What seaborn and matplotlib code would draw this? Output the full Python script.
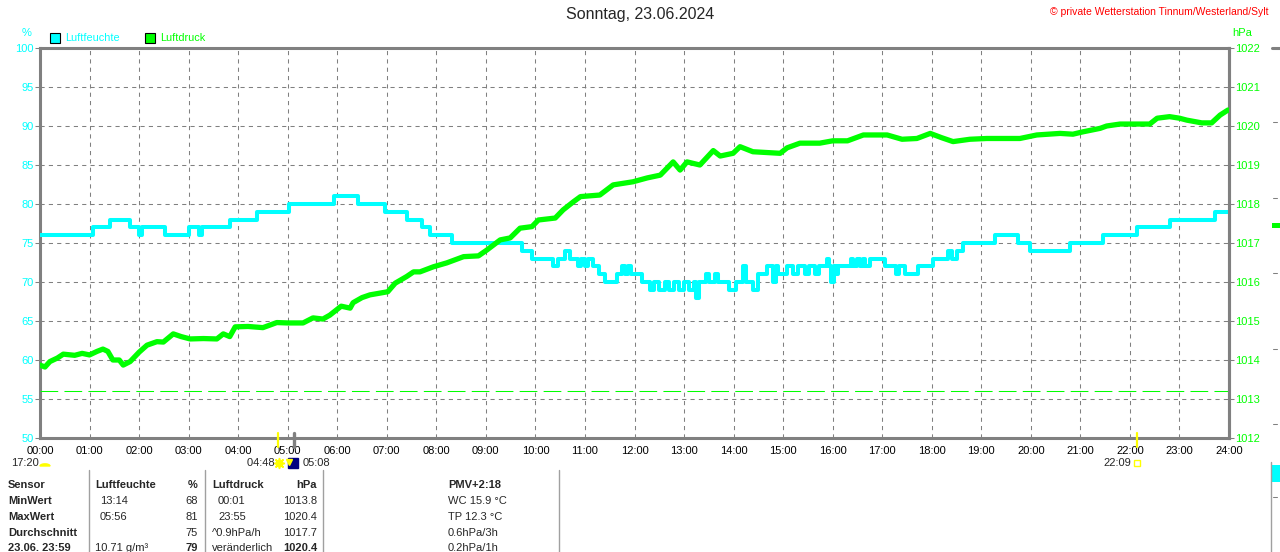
import matplotlib
matplotlib.use("Agg")
import matplotlib.pyplot as plt
import matplotlib.transforms as mtransforms
from matplotlib.lines import Line2D
from matplotlib.patches import Rectangle, Wedge
import seaborn as sns

# Luftfeuchte (%) - Stufenwerte, Stunde -> Wert
hum_t = [0.00, 1.07, 1.41, 1.82, 2.00, 2.06, 2.52, 3.00, 3.20, 3.28, 3.83, 4.38, 5.03,
         5.93, 6.42, 6.96, 7.40, 7.72, 7.87, 8.32, 9.73, 9.93, 10.36, 10.46, 10.60,
         10.70, 10.86, 10.92, 11.00, 11.06, 11.16, 11.28, 11.40, 11.64, 11.74, 11.80,
         11.86, 11.92, 12.15, 12.31, 12.40, 12.50, 12.62, 12.70, 12.80, 12.90, 13.00,
         13.10, 13.20, 13.24, 13.30, 13.45, 13.50, 13.62, 13.68, 13.90, 14.05, 14.20,
         14.26, 14.40, 14.50, 14.67, 14.80, 14.86, 14.90, 15.07, 15.20, 15.30, 15.45,
         15.52, 15.65, 15.72, 15.88, 15.93, 15.96, 16.02, 16.06, 16.10, 16.38, 16.42,
         16.50, 16.55, 16.62, 16.66, 16.75, 17.06, 17.28, 17.34, 17.46, 17.73, 18.03,
         18.33, 18.40, 18.50, 18.63, 19.28, 19.74, 19.98, 20.80, 21.46, 22.14, 22.80,
         23.72, 24.00]
hum_v = [76, 77, 78, 77, 76, 77, 76, 77, 76, 77, 78, 79, 80,
         81, 80, 79, 78, 77, 76, 75, 74, 73, 72, 73, 74,
         73, 72, 73, 72, 73, 72, 71, 70, 71, 72, 71,
         72, 71, 70, 69, 70, 69, 70, 69, 70, 69, 70,
         69, 70, 68, 70, 71, 70, 71, 70, 69, 70, 72,
         70, 69, 71, 72, 70, 72, 71, 72, 71, 72, 71,
         72, 71, 72, 73, 72, 70, 72, 71, 72, 73, 72,
         73, 72, 73, 72, 73, 72, 71, 72, 71, 72, 73,
         74, 73, 74, 75, 76, 75, 74, 75, 76, 77, 78,
         79, 79]

# Luftdruck (hPa)
pres_t = [0.00, 0.10, 0.20, 0.35, 0.47, 0.70, 0.85, 1.00, 1.15, 1.27, 1.37, 1.47, 1.60,
          1.68, 1.82, 2.00, 2.16, 2.36, 2.49, 2.69, 2.85, 3.03, 3.30, 3.57, 3.70, 3.83,
          3.94, 4.20, 4.50, 4.78, 5.00, 5.31, 5.51, 5.71, 5.85, 6.08, 6.26, 6.32, 6.50,
          6.66, 7.02, 7.17, 7.40, 7.54, 7.67, 7.94, 8.21, 8.55, 8.85, 9.02, 9.29, 9.49,
          9.69, 9.93, 10.06, 10.40, 10.56, 10.77, 10.91, 11.30, 11.57, 11.97, 12.26,
          12.52, 12.78, 12.92, 13.06, 13.32, 13.59, 13.73, 13.99, 14.13, 14.39, 14.94,
          15.08, 15.34, 15.74, 16.00, 16.30, 16.62, 17.10, 17.40, 17.70, 17.97, 18.20,
          18.43, 18.77, 19.11, 19.50, 19.78, 20.12, 20.59, 20.85, 21.05, 21.40, 21.53,
          21.80, 22.40, 22.55, 22.80, 23.00, 23.15, 23.45, 23.65, 23.82, 23.98]
pres_v = [1013.87, 1013.82, 1013.96, 1014.05, 1014.15, 1014.12, 1014.17, 1014.13, 1014.22,
          1014.28, 1014.22, 1014.00, 1014.00, 1013.87, 1013.96, 1014.20, 1014.38, 1014.47,
          1014.46, 1014.67, 1014.60, 1014.54, 1014.55, 1014.54, 1014.67, 1014.60, 1014.85,
          1014.86, 1014.83, 1014.96, 1014.95, 1014.95, 1015.08, 1015.05, 1015.15, 1015.38,
          1015.33, 1015.47, 1015.60, 1015.67, 1015.75, 1015.97, 1016.14, 1016.26, 1016.26,
          1016.39, 1016.49, 1016.65, 1016.67, 1016.82, 1017.08, 1017.13, 1017.38, 1017.42,
          1017.59, 1017.64, 1017.85, 1018.06, 1018.19, 1018.23, 1018.49, 1018.57, 1018.67,
          1018.74, 1019.08, 1018.87, 1019.08, 1019.00, 1019.37, 1019.23, 1019.30, 1019.47,
          1019.34, 1019.30, 1019.44, 1019.56, 1019.56, 1019.62, 1019.62, 1019.77, 1019.77,
          1019.66, 1019.68, 1019.81, 1019.70, 1019.60, 1019.66, 1019.68, 1019.68, 1019.68,
          1019.77, 1019.81, 1019.79, 1019.85, 1019.94, 1020.00, 1020.05, 1020.05, 1020.20,
          1020.24, 1020.20, 1020.15, 1020.08, 1020.08, 1020.28, 1020.41]
pres_ref = 1013.2

hour_labels = ["%02d:00" % h for h in range(25)]
hum_ticks = list(range(50, 101, 5))
pres_ticks = list(range(1012, 1023))

sun_up, sun_down, moon_t = 4.8, 22.15, 5.133

table_rows = [
    ["Sensor", "Luftfeuchte", "%", "Luftdruck", "hPa", "PMV+2:18"],
    ["MinWert", " 13:14", "68", "  00:01", "1013.8", "WC 15.9 °C"],
    ["MaxWert", " 05:56", "81", "  23:55", "1020.4", "TP 12.3 °C"],
    ["Durchschnitt", "", "75", "^0.9hPa/h", "1017.7", "0.6hPa/3h"],
    ["23.06. 23:59", "10.71 g/m³", "79", "veränderlich", "1020.4", "0.2hPa/1h"],
]

CYAN = "#00FFFF"
GREEN = "#00FF00"
GRAY = "#808080"
YELLOW = "#FFFF00"

sns.set_style("white")
plt.rcParams['font.family'] = ['Liberation Sans', 'DejaVu Sans']

W, H = 1280, 552


def fx(px):
    return px / W


def fy(py):
    return 1 - py / H


fig = plt.figure(figsize=(12.8, 5.52), dpi=100)
ax = fig.add_axes([fx(40), fy(438), 1189 / W, 390 / H])
ax.set_facecolor("white")

# grid
for h in range(1, 24):
    ax.axvline(h, color=GRAY, lw=0.75, linestyle=(0, (4, 4)), zorder=0)
for v in range(55, 100, 5):
    ax.axhline(v, color=GRAY, lw=0.75, linestyle=(0, (4, 4)), zorder=0)

sns.lineplot(x=hum_t, y=hum_v, ax=ax, color=CYAN, lw=2.9, drawstyle="steps-post",
             legend=False, zorder=3)
ax.set_xlim(0, 24)
ax.set_ylim(50, 100)
ax.set_xticks(range(25))
ax.set_xticklabels(hour_labels)
ax.set_yticks(hum_ticks)
ax.set_xlabel("")
ax.set_ylabel("")
ax.tick_params(axis="x", length=3.6, width=0.75, color=GRAY, pad=2,
               labelsize=8, labelcolor="black")
ax.tick_params(axis="y", length=3.6, width=0.75, color=GRAY, pad=1,
               labelsize=8, labelcolor=CYAN, left=True)
for s in ax.spines.values():
    s.set_color(GRAY)
    s.set_linewidth(2.2)

ax2 = ax.twinx()
ax2.axhline(pres_ref, color=GREEN, lw=0.75, linestyle=(0, (17, 6)), zorder=1)
sns.lineplot(x=pres_t, y=pres_v, ax=ax2, color=GREEN, lw=3.8, legend=False, zorder=4)
ax2.set_ylim(1012, 1022)
ax2.set_yticks(pres_ticks)
ax2.set_ylabel("")
ax2.tick_params(axis="y", length=3.6, width=0.75, color=GRAY, pad=1,
                labelsize=8, labelcolor=GREEN, right=True)
for k, s in ax2.spines.items():
    s.set_visible(k == "right")
    s.set_color(GRAY)
    s.set_linewidth(2.2)

# sunrise / sunset markers at the time axis
ax.plot([sun_up, sun_up], [48.85, 50.64], color=YELLOW, lw=1.6, clip_on=False, zorder=6)
ax.plot([sun_down, sun_down], [48.85, 50.64], color=YELLOW, lw=1.6, clip_on=False, zorder=6)
ax.plot([moon_t, moon_t], [48.85, 50.64], color=GRAY, lw=2.4, clip_on=False, zorder=6)

# texts on top
fig.text(0.5, fy(15), "Sonntag, 23.06.2024", ha="center", va="center", fontsize=11.5)
fig.text(fx(1269), fy(12), "© private Wetterstation Tinnum/Westerland/Sylt",
         ha="right", va="center", fontsize=7.5, color="red")
fig.text(fx(27), fy(33), "%", ha="center", va="center", fontsize=8, color=CYAN)
fig.text(fx(1232), fy(33), "hPa", ha="left", va="center", fontsize=8, color=GREEN)

fig.add_artist(Rectangle((fx(50), fy(43)), 10 / W, 10 / H, transform=fig.transFigure,
                         fc=CYAN, ec="black", lw=0.8))
fig.text(fx(65), fy(38), "Luftfeuchte", ha="left", va="center", fontsize=7.8, color=CYAN)
fig.add_artist(Rectangle((fx(145), fy(43)), 10 / W, 10 / H, transform=fig.transFigure,
                         fc=GREEN, ec="black", lw=0.8))
fig.text(fx(160), fy(38), "Luftdruck", ha="left", va="center", fontsize=7.8, color=GREEN)

# sun / moon times below the axis
tb = mtransforms.blended_transform_factory(ax.transData, fig.transFigure)
fig.text(fx(11), fy(463), "17:20", ha="left", va="center", fontsize=8)
fig.add_artist(Wedge((fx(45), fy(466)), 0.0039, 0, 180, transform=fig.transFigure,
                     fc=YELLOW, ec=YELLOW))
fig.text(sun_up, fy(463), "04:48 ", ha="right", va="center", fontsize=8, transform=tb)
ax.plot([sun_up + 0.03], [50 - 25 / 7.8], marker=(8, 2, 0), ms=8, color=YELLOW,
        mew=1, clip_on=False)
ax.plot([sun_up + 0.03], [50 - 25 / 7.8], marker="o", ms=5, color=YELLOW, clip_on=False)
ax.plot([moon_t - 0.03], [50 - 25 / 7.8], marker="s", ms=7.5, color="#000080",
        mec="#000080", clip_on=False)
ax.plot([moon_t - 0.1], [50 - 24 / 7.8], marker="v", ms=4, color=YELLOW, clip_on=False)
fig.text(moon_t + 0.16, fy(463), "05:08", ha="left", va="center", fontsize=8, transform=tb)
fig.text(sun_down - 0.12, fy(463), "22:09", ha="right", va="center", fontsize=8, transform=tb)
ax.plot([sun_down], [50 - 25 / 7.8], marker="s", ms=4, mfc="none", mec=YELLOW, mew=1,
        clip_on=False)

# table
for xl in [89, 205, 323, 559]:
    fig.add_artist(Line2D([fx(xl), fx(xl)], [fy(470), fy(556)], color="#A0A0A0", lw=1,
                          transform=fig.transFigure))
col_x = [8, 95, 198, 212, 317, 448]
col_ha = ["left", "left", "right", "left", "right", "left"]
row_y = [485, 501, 517, 533, 548]
for r, row in enumerate(table_rows):
    for c, txt in enumerate(row):
        bold = (r == 0) or (c == 0) or (r == 4 and c in (2, 4))
        xx = col_x[c]
        if r > 0 and c == 1 and txt.startswith(" "):
            xx = 100
        if r > 0 and c == 3 and txt.startswith(" "):
            xx = 218
        fig.text(fx(xx), fy(row_y[r]), txt.strip(), ha=col_ha[c], va="center", fontsize=8,
                 fontweight="bold" if bold else "normal")

# cut-off neighbour chart at the right border
fig.add_artist(Line2D([fx(1272), fx(1281)], [fy(47.5), fy(47.5)], color=GRAY, lw=2.2,
                      transform=fig.transFigure))
for yy in [122, 198, 273, 349, 424]:
    fig.add_artist(Line2D([fx(1273), fx(1277)], [fy(yy), fy(yy)], color=GRAY, lw=0.75,
                          transform=fig.transFigure))
fig.add_artist(Rectangle((fx(1272), fy(228)), 8 / W, 5 / H, transform=fig.transFigure,
                         fc=GREEN, ec="none"))
fig.add_artist(Line2D([fx(1271), fx(1271)], [fy(462), fy(556)], color="#A0A0A0", lw=1,
                      transform=fig.transFigure))
fig.add_artist(Rectangle((fx(1272), fy(482)), 8 / W, 17 / H, transform=fig.transFigure,
                         fc=CYAN, ec="none"))
fig.add_artist(Line2D([fx(1273), fx(1277)], [fy(497), fy(497)], color=GRAY, lw=0.75,
                      transform=fig.transFigure))

fig.savefig("out.png", dpi=100)
